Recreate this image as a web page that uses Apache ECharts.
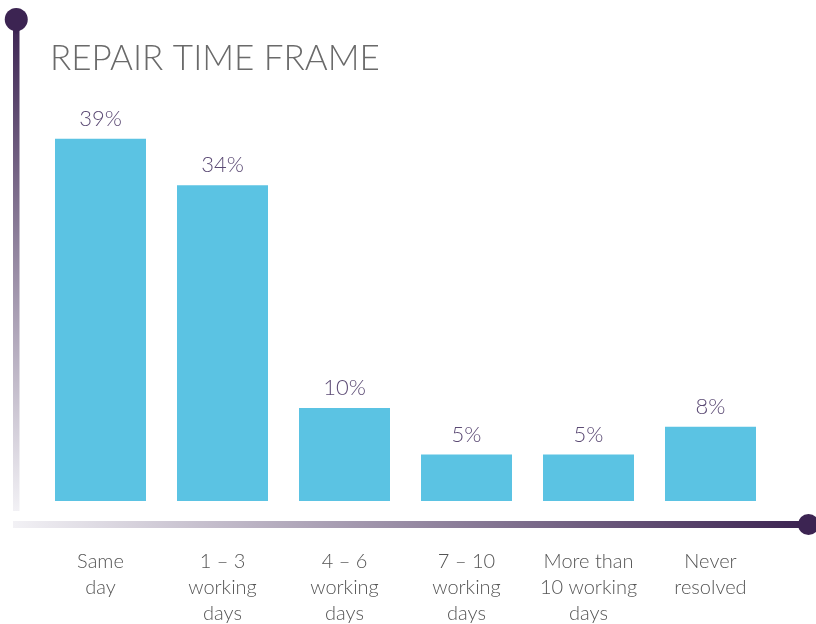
<!DOCTYPE html>
<html>
<head>
<meta charset="utf-8">
<script src="https://cdn.jsdelivr.net/npm/echarts@6/dist/echarts.min.js"></script>
<style>
  html, body { margin: 0; padding: 0; background: #ffffff; }
  #chart { width: 816px; height: 624px; }
</style>
</head>
<body>
<div id="chart"></div>
<script>
// Repair time frame categories and shares (%)
const categories = [
  'Same\nday',
  '1 – 3\nworking\ndays',
  '4 – 6\nworking\ndays',
  '7 – 10\nworking\ndays',
  'More than\n10 working\ndays',
  'Never\nresolved'
];
const shares = [39, 34, 10, 5, 5, 8];

const chart = echarts.init(document.getElementById('chart'), null, { renderer: 'canvas' });

const dark = '#3c2452';
const light = '#f2f1f5';

chart.setOption({
  animation: false,
  backgroundColor: '#ffffff',
  title: {
    text: 'REPAIR TIME FRAME',
    left: 45,
    top: 36,
    textStyle: {
      fontFamily: 'Lato',
      fontWeight: 300,
      fontSize: 35,
      color: '#6a6a6a'
    }
  },
  grid: {
    left: 39.5, right: 44.5, top: 36.5, bottom: 123,
    containLabel: false,
    outerBoundsMode: 'none'
  },
  xAxis: {
    type: 'category',
    data: categories,
    axisLine: { show: false },
    axisTick: { show: false },
    axisLabel: {
      margin: 48,
      fontFamily: 'Lato',
      fontWeight: 300,
      fontSize: 20,
      lineHeight: 26,
      color: '#555555',
      interval: 0
    }
  },
  yAxis: {
    type: 'value',
    min: 0,
    max: 50,
    show: false,
    splitLine: { show: false }
  },
  series: [{
    type: 'bar',
    data: shares,
    barWidth: 91,
    itemStyle: { color: '#5bc3e3' },
    label: {
      show: true,
      position: 'top',
      distance: 9,
      formatter: '{c}%',
      fontFamily: 'Lato',
      fontWeight: 300,
      fontSize: 22,
      color: '#5b4a74'
    }
  }],
  graphic: [
    // vertical rail fading downward
    {
      type: 'rect',
      shape: { x: 13, y: 20, width: 6.5, height: 491 },
      style: {
        fill: new echarts.graphic.LinearGradient(0, 0, 0, 1, [
          { offset: 0, color: dark },
          { offset: 1, color: light }
        ])
      }
    },
    // top pin head
    {
      type: 'polygon',
      shape: { points: [[8, 24], [25, 24], [16.25, 34]] },
      style: { fill: dark }
    },
    {
      type: 'circle',
      shape: { cx: 16.25, cy: 19.5, r: 11.5 },
      style: { fill: dark }
    },
    // horizontal rail darkening to the right
    {
      type: 'rect',
      shape: { x: 13, y: 521, width: 790, height: 7 },
      style: {
        fill: new echarts.graphic.LinearGradient(0, 0, 1, 0, [
          { offset: 0, color: light },
          { offset: 1, color: dark }
        ])
      }
    },
    // right end point
    {
      type: 'polygon',
      shape: { points: [[796, 524.5], [806, 515], [806, 534]] },
      style: { fill: dark }
    },
    {
      type: 'circle',
      shape: { cx: 808.5, cy: 524.5, r: 10.5 },
      style: { fill: dark }
    }
  ]
});
</script>
</body>
</html>
